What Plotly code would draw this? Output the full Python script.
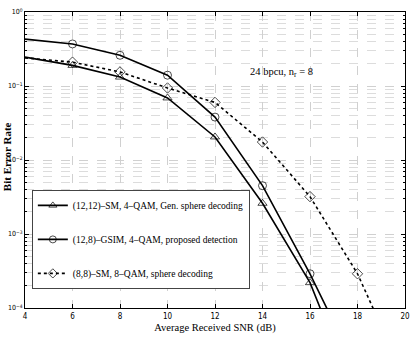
import plotly.graph_objects as go

snr = [4, 6, 8, 10, 12, 14, 16, 18]
snr_sm8 = [4, 6, 8, 10, 12, 14, 16, 18, 20]

ber_sm_gen = [0.246, 0.19, 0.132, 0.069, 0.0205, 0.0026, 2.2e-4, 5.5e-6]
ber_gsim = [0.43, 0.37, 0.26, 0.14, 0.038, 0.0045, 2.9e-4, 1.4e-5]
ber_sm8 = [0.24, 0.21, 0.155, 0.094, 0.06, 0.0175, 0.0032, 2.9e-4, 1.1e-5]

names = [
    "(12,12)–SM, 4–QAM, Gen. sphere decoding",
    "(12,8)–GSIM, 4–QAM, proposed detection",
    "(8,8)–SM, 8–QAM, sphere decoding",
]

y_tickvals = [1e-4, 1e-3, 1e-2, 1e-1, 1]
y_ticktext = ["10<sup>−4</sup>", "10<sup>−3</sup>", "10<sup>−2</sup>", "10<sup>−1</sup>", "10<sup>0</sup>"]
y_minorvals = [k * 10.0 ** e for e in range(-4, 0) for k in range(2, 10)]

serif = "Liberation Serif, Times New Roman, serif"
narrow = "Liberation Sans Narrow, DejaVu Sans Condensed, Liberation Sans, sans-serif"


def sizes(n):
    # no marker on the first (x=4) point
    return [0] + [8] * (n - 1)


fig = go.Figure()
fig.add_trace(go.Scatter(
    x=snr, y=ber_sm_gen, name=names[0], mode="lines+markers", legendgroup="a",
    line=dict(color="black", width=1.6),
    marker=dict(symbol="triangle-up-open", size=sizes(len(snr)), color="black", line=dict(width=1)),
))
fig.add_trace(go.Scatter(
    x=snr, y=ber_gsim, name=names[1], mode="lines+markers", legendgroup="b",
    line=dict(color="black", width=1.6),
    marker=dict(symbol="circle-open", size=sizes(len(snr)), color="black", line=dict(width=1)),
))
fig.add_trace(go.Scatter(
    x=snr_sm8, y=ber_sm8, name=names[2], mode="lines+markers", legendgroup="c",
    line=dict(color="black", width=1.6, dash="dot"),
    marker=dict(symbol="diamond-open", size=sizes(len(snr_sm8)), color="black", line=dict(width=1)),
))

fig.add_annotation(
    x=14.8, y=-0.82, xref="x", yref="y", showarrow=False,
    text="24 bpcu, n<sub>r</sub> = 8", font=dict(family=serif, size=10.5, color="black"),
)
# y-axis title placed by hand so it sits tight against the tick labels
fig.add_annotation(
    x=-0.047, y=0.51, xref="paper", yref="paper", xanchor="center", yanchor="middle",
    showarrow=False, textangle=-90, borderpad=0,
    text="<b>Bit Error Rate</b>", font=dict(family=serif, size=11, color="black"),
)

axis_common = dict(
    showline=True, linecolor="black", linewidth=1, mirror="ticks",
    ticks="inside", ticklen=4, tickcolor="black",
    gridcolor="#d0d0d0", griddash="dash", zeroline=False, automargin=False,
)

fig.update_xaxes(
    range=[4, 20], dtick=2, tick0=4,
    tickfont=dict(family=narrow, size=8, color="black"),
    title=dict(text="Average Received SNR (dB)", font=dict(family=serif, size=10.5, color="black"), standoff=4),
    **axis_common,
)
fig.update_yaxes(
    type="log", range=[-4, 0], tickvals=y_tickvals, ticktext=y_ticktext, ticklabelstandoff=0,
    tickfont=dict(family=narrow, size=7, color="black"),
    minor=dict(tickvals=y_minorvals, showgrid=True, gridcolor="#dcdcdc", griddash="dash",
               ticks="inside", ticklen=2, tickcolor="black"),
    **axis_common,
)

fig.update_layout(
    width=415, height=346,
    margin=dict(l=25, r=10, t=12, b=38, autoexpand=False),
    plot_bgcolor="white", paper_bgcolor="white",
    showlegend=True,
    legend=dict(
        x=0.018, y=0.399, xanchor="left", yanchor="top",
        bgcolor="white", bordercolor="#444", borderwidth=1,
        font=dict(family=serif, size=9.5, color="black"),
        tracegroupgap=15, itemwidth=30,
    ),
)

# drop the page's default 8px body margin so the figure sits at the window's corner
fig.write_html("out.html", config={"displayModeBar": False},
               post_script="document.body.style.margin='0px';")
